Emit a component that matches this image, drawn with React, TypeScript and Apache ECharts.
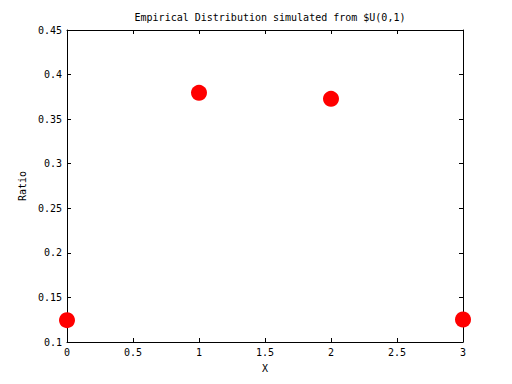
import React, { useEffect, useRef } from "react";
import * as echarts from "echarts";

const xValues = [0, 1, 2, 3];
const ratios = [0.1245, 0.3795, 0.3728, 0.1252];
const titleText = "Empirical Distribution simulated from $U(0,1)";
const xLabel = "X";
const yLabel = "Ratio";

const FONT = "DejaVu Sans Mono";

export default function App() {
  const ref = useRef<HTMLDivElement>(null);
  useEffect(() => {
    if (!ref.current) return;
    const chart = echarts.init(ref.current, undefined, { renderer: "svg" });
    const fmtY = (v: number) => String(parseFloat(v.toFixed(2)));
    const fmtX = (v: number) => String(parseFloat(v.toFixed(1)));
    const axisLineStyle = { color: "#000", width: 1 };
    chart.setOption({
      animation: false,
      backgroundColor: "#fff",
      title: {
        text: titleText,
        left: 265,
        top: 7,
        textAlign: "center",
        textStyle: { fontFamily: FONT, fontSize: 10, fontWeight: "normal", color: "#000" },
      },
      grid: { left: 67, right: 49, top: 30, bottom: 42, containLabel: false },
      xAxis: [
        {
          type: "value",
          min: 0,
          max: 3,
          interval: 0.5,
          position: "bottom",
          name: xLabel,
          nameLocation: "middle",
          nameGap: 21,
          nameTextStyle: { fontFamily: FONT, fontSize: 10, color: "#000" },
          axisLine: { show: true, onZero: false, lineStyle: axisLineStyle },
          axisTick: { show: true, inside: true, length: 4, lineStyle: axisLineStyle },
          axisLabel: { fontFamily: FONT, fontSize: 10, color: "#000", margin: 5, formatter: fmtX },
          splitLine: { show: false },
        },
        {
          type: "value",
          min: 0,
          max: 3,
          interval: 0.5,
          position: "top",
          axisLine: { show: true, onZero: false, lineStyle: axisLineStyle },
          axisTick: { show: true, inside: true, length: 4, lineStyle: axisLineStyle },
          axisLabel: { show: false },
          splitLine: { show: false },
        },
      ],
      yAxis: [
        {
          type: "value",
          min: 0.1,
          max: 0.45,
          interval: 0.05,
          position: "left",
          name: yLabel,
          nameLocation: "middle",
          nameGap: 30,
          nameRotate: 90,
          nameTextStyle: { fontFamily: FONT, fontSize: 10, color: "#000" },
          axisLine: { show: true, onZero: false, lineStyle: axisLineStyle },
          axisTick: { show: true, inside: true, length: 4, lineStyle: axisLineStyle },
          axisLabel: { fontFamily: FONT, fontSize: 10, color: "#000", margin: 5, formatter: fmtY },
          splitLine: { show: false },
        },
        {
          type: "value",
          min: 0.1,
          max: 0.45,
          interval: 0.05,
          position: "right",
          axisLine: { show: true, onZero: false, lineStyle: axisLineStyle },
          axisTick: { show: true, inside: true, length: 4, lineStyle: axisLineStyle },
          axisLabel: { show: false },
          splitLine: { show: false },
        },
      ],
      series: [
        {
          type: "scatter",
          xAxisIndex: 0,
          yAxisIndex: 0,
          data: xValues.map((x, i) => [x, ratios[i]]),
          symbol: "circle",
          symbolSize: 16,
          itemStyle: { color: "#ff0000", opacity: 1 },
          clip: false,
        },
      ],
    });
    return () => chart.dispose();
  }, []);
  return (
    <div
      ref={ref}
      style={{ position: "fixed", left: 0, top: 0, width: 512, height: 384, background: "#fff" }}
    />
  );
}
